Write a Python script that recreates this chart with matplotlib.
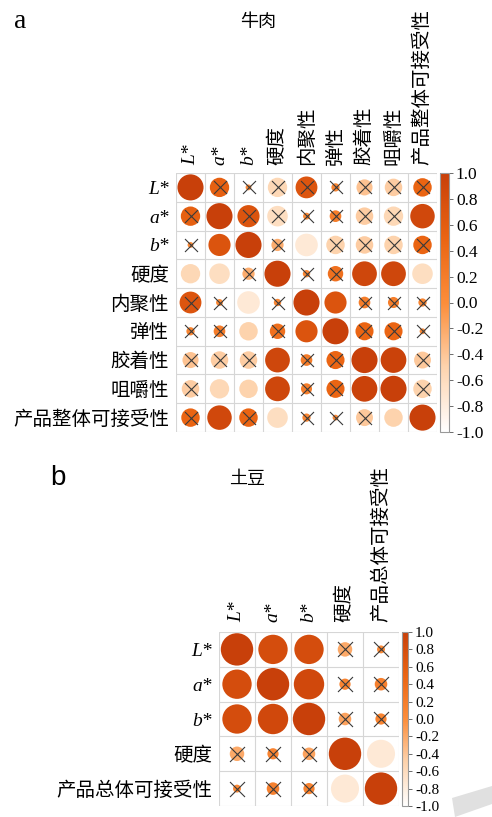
import numpy as np
import matplotlib
matplotlib.use("Agg")
import matplotlib.pyplot as plt
from matplotlib.colors import LinearSegmentedColormap
from matplotlib.patches import Polygon
import matplotlib.cm as cm

plt.rcParams['font.family'] = ['Liberation Serif', 'Noto Sans CJK SC']

# beef: colour / texture / acceptability correlations
beef_labels = ['L*', 'a*', 'b*', '硬度', '内聚性', '弹性', '胶着性', '咀嚼性', '产品整体可接受性']
beef_r = np.array([
    [1.00, 0.55, 0.05, -0.55, 0.70, 0.10, -0.38, -0.45, 0.50],
    [0.55, 1.00, 0.72, -0.62, 0.07, 0.20, -0.45, -0.55, 0.88],
    [0.05, 0.72, 1.00, -0.22, -0.75, -0.50, -0.45, -0.50, 0.50],
    [-0.55, -0.62, -0.22, 1.00, 0.08, 0.35, 0.90, 0.90, -0.62],
    [0.70, 0.07, -0.75, 0.08, 1.00, 0.72, 0.20, 0.18, 0.10],
    [0.10, 0.20, -0.50, 0.35, 0.72, 1.00, 0.48, 0.48, 0.05],
    [-0.38, -0.45, -0.45, 0.90, 0.20, 0.48, 1.00, 0.97, -0.42],
    [-0.45, -0.55, -0.50, 0.90, 0.18, 0.48, 0.97, 1.00, -0.50],
    [0.50, 0.88, 0.50, -0.62, 0.10, 0.05, -0.42, -0.50, 1.00],
])
# 1 = not significant (crossed out)
beef_ns = np.array([
    [0, 1, 1, 1, 1, 1, 1, 1, 1],
    [1, 0, 1, 1, 1, 1, 1, 1, 0],
    [1, 0, 0, 1, 0, 1, 1, 1, 1],
    [0, 0, 1, 0, 1, 1, 0, 0, 0],
    [1, 1, 0, 1, 0, 0, 1, 1, 1],
    [1, 1, 0, 1, 0, 0, 1, 1, 1],
    [1, 1, 1, 0, 1, 1, 0, 0, 1],
    [1, 0, 0, 0, 1, 1, 0, 0, 1],
    [1, 0, 1, 0, 1, 1, 1, 0, 0],
])

# potato
potato_labels = ['L*', 'a*', 'b*', '硬度', '产品总体可接受性']
potato_r = np.array([
    [1.00, 0.82, 0.82, -0.20, 0.06],
    [0.82, 1.00, 0.88, 0.12, 0.15],
    [0.82, 0.88, 1.00, -0.15, 0.12],
    [-0.20, 0.12, -0.15, 1.00, -0.75],
    [0.06, 0.15, 0.12, -0.75, 1.00],
])
potato_ns = np.array([
    [0, 0, 0, 1, 1],
    [0, 0, 0, 1, 1],
    [0, 0, 0, 1, 1],
    [1, 1, 1, 0, 0],
    [1, 1, 1, 0, 0],
])

cbar_ticks = [-1.0, -0.8, -0.6, -0.4, -0.2, 0.0, 0.2, 0.4, 0.6, 0.8, 1.0]
cbar_labels = ['-1.0', '-0.8', '-0.6', '-0.4', '-0.2', '0.0', '0.2', '0.4', '0.6', '0.8', '1.0']

cmap = LinearSegmentedColormap.from_list(
    'or', [(0, '#ffffff'), (0.25, '#fdd3ad'), (0.5, '#fc8d3a'),
           (0.75, '#ea6412'), (1, '#c8400a')])

W, H = 492, 817
fig = plt.figure(figsize=(W / 100, H / 100), dpi=100)


def box(l, t, r, b):
    return [l / W, 1 - b / H, (r - l) / W, (b - t) / H]


def corr_panel(rect, crect, labels, r, ns, cell_px, xsize, tick_fs, xpad, ypad):
    n = len(labels)
    ax = fig.add_axes(rect)
    ax.set_xlim(0, n)
    ax.set_ylim(n, 0)
    for k in range(n + 1):
        ax.axhline(k, color='#d6d6d6', lw=0.8, zorder=1)
        ax.axvline(k, color='#d6d6d6', lw=0.8, zorder=1)
    for s in ax.spines.values():
        s.set_visible(False)
    xx, yy = np.meshgrid(np.arange(n) + 0.5, np.arange(n) + 0.5)
    # circle area proportional to |r|
    diam = 0.9 * cell_px * np.sqrt(np.abs(r)) * 0.72
    ax.scatter(xx.ravel(), yy.ravel(), s=diam.ravel() ** 2, c=r.ravel(),
               cmap=cmap, vmin=-1, vmax=1, edgecolors='none', zorder=2)
    m = ns.ravel() == 1
    ax.scatter(xx.ravel()[m], yy.ravel()[m], s=(xsize * 0.72) ** 2, marker='x',
               color='#3a3a3a', linewidths=0.8, zorder=3)

    ax.xaxis.tick_top()
    ax.set_xticks(np.arange(n) + 0.5)
    ax.set_yticks(np.arange(n) + 0.5)
    ax.set_xticklabels(labels, rotation=90, fontsize=14)
    ax.set_yticklabels(labels, fontsize=14)
    ax.tick_params(length=0)
    ax.tick_params(axis='x', pad=xpad)
    ax.tick_params(axis='y', pad=ypad)
    for t in ax.get_xticklabels() + ax.get_yticklabels():
        if t.get_text().endswith('*'):
            t.set_style('italic')

    cax = fig.add_axes(crect)
    sm = cm.ScalarMappable(cmap=cmap, norm=plt.Normalize(-1, 1))
    cb = fig.colorbar(sm, cax=cax, ticks=cbar_ticks)
    cb.ax.set_yticklabels(cbar_labels, fontsize=tick_fs)
    cb.outline.set_edgecolor('#999999')
    cb.outline.set_linewidth(0.8)
    cb.ax.tick_params(length=3, width=0.6, color='#555555', pad=2)
    return ax


corr_panel(box(176, 173, 437, 432), box(440, 173, 449, 432),
           beef_labels, beef_r, beef_ns, 29, 13, 12.5, 6, 5)
corr_panel(box(219, 632, 399, 806), box(402, 632, 408, 806),
           potato_labels, potato_r, potato_ns, 36, 15, 11, 7, 5)

fig.text(20 / W, 1 - 22 / H, 'a', fontsize=20, ha='center', va='center')
fig.text(258 / W, 1 - 22 / H, '牛肉', fontsize=13, ha='center', va='center')
fig.text(58 / W, 1 - 478 / H, 'b', fontsize=20, ha='center', va='center',
         family='Liberation Sans')
fig.text(247 / W, 1 - 479 / H, '土豆', fontsize=13, ha='center', va='center')

# grey streak in the lower right corner
pts = np.array([[452, 798], [492, 786], [492, 804], [455, 817]], dtype=float)
pts[:, 0] /= W
pts[:, 1] = 1 - pts[:, 1] / H
fig.add_artist(Polygon(pts, closed=True, facecolor='#e0e0e0', edgecolor='none',
                       transform=fig.transFigure))

fig.savefig('out.png', dpi=100)
